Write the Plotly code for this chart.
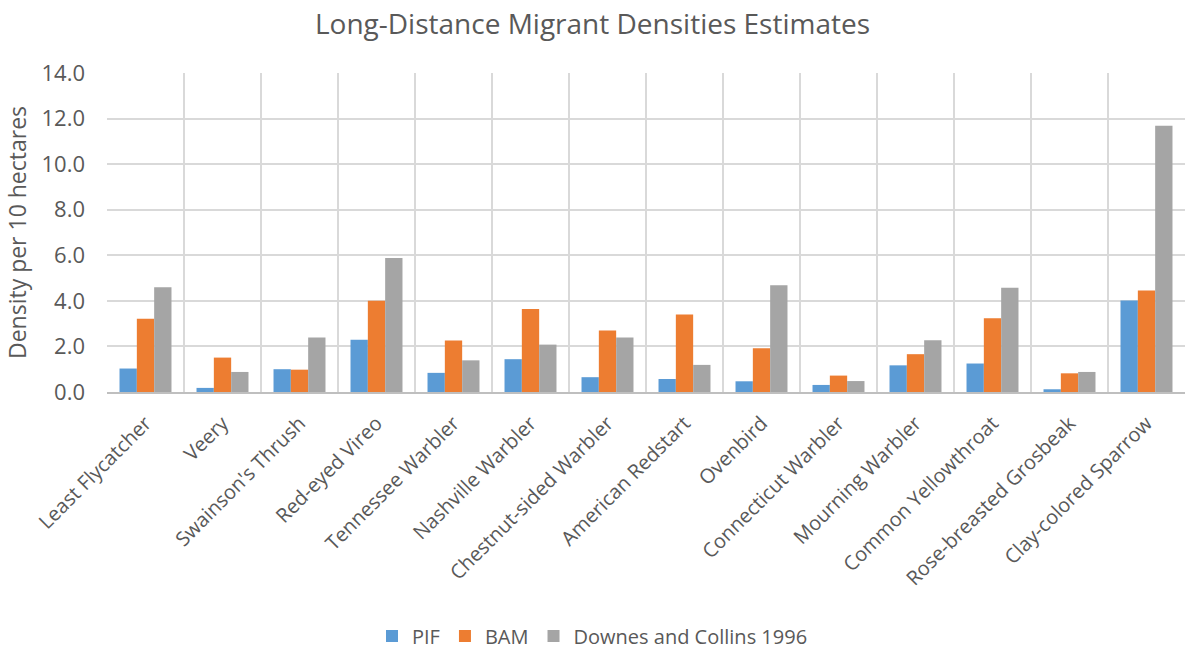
import plotly.graph_objects as go

species = [
    "Least Flycatcher", "Veery", "Swainson's Thrush", "Red-eyed Vireo",
    "Tennessee Warbler", "Nashville Warbler", "Chestnut-sided Warbler",
    "American Redstart", "Ovenbird", "Connecticut Warbler", "Mourning Warbler",
    "Common Yellowthroat", "Rose-breasted Grosbeak", "Clay-colored Sparrow",
]
pif = [1.03, 0.18, 1.0, 2.29, 0.84, 1.44, 0.65, 0.57, 0.47, 0.31, 1.17, 1.25, 0.12, 4.02]
bam = [3.21, 1.51, 0.98, 4.0, 2.26, 3.64, 2.70, 3.40, 1.92, 0.72, 1.66, 3.24, 0.82, 4.46]
downes_collins = [4.6, 0.88, 2.39, 5.88, 1.39, 2.08, 2.39, 1.19, 4.68, 0.48, 2.27, 4.57, 0.88, 11.69]

series = [
    ("PIF", pif, "#5b9bd5"),
    ("BAM", bam, "#ed7d31"),
    ("Downes and Collins 1996", downes_collins, "#a5a5a5"),
]

FONT = "'Open Sans', sans-serif"
TEXT = "#595959"

fig = go.Figure()
for name, vals, color in series:
    fig.add_trace(go.Bar(name=name, x=species, y=vals, marker_color=color,
                         marker_line_width=0))

fig.update_layout(
    width=1185, height=649,
    paper_bgcolor="white", plot_bgcolor="white",
    margin=dict(l=107, r=0, t=73, b=257),
    barmode="group", bargap=0.325, bargroupgap=0,
    title=dict(text="Long-Distance Migrant Densities Estimates",
               x=0.5, xref="container", xanchor="center",
               y=0.962, yref="container", yanchor="middle",
               font=dict(family=FONT, size=28, color=TEXT)),
    font=dict(family=FONT, color=TEXT),
    legend=dict(orientation="h", x=0.5, xref="container", xanchor="center",
                y=0.02, yref="container", yanchor="middle",
                font=dict(family=FONT, size=20, color=TEXT),
                itemwidth=30, tracegroupgap=0),
    showlegend=True,
)

fig.update_xaxes(
    type="category", tickson="boundaries", ticks="", automargin=False,
    showgrid=True, gridcolor="#d9d9d9", gridwidth=1.5,
    showline=True, linecolor="#bfbfbf", linewidth=1.5,
    ticklabelstandoff=10,
    tickangle=-45, tickfont=dict(family=FONT, size=20, color=TEXT),
)
fig.update_yaxes(
    range=[0, 14], dtick=2, tickformat=".1f", automargin=False,
    showgrid=True, gridcolor="#d9d9d9", gridwidth=1.5,
    zeroline=False, ticks="", ticklabelstandoff=21,
    tickfont=dict(family=FONT, size=22, color=TEXT),
    title=dict(text="Density per 10 hectares",
               font=dict(family=FONT, size=23, color=TEXT), standoff=8),
)

fig.write_html("out.html")
